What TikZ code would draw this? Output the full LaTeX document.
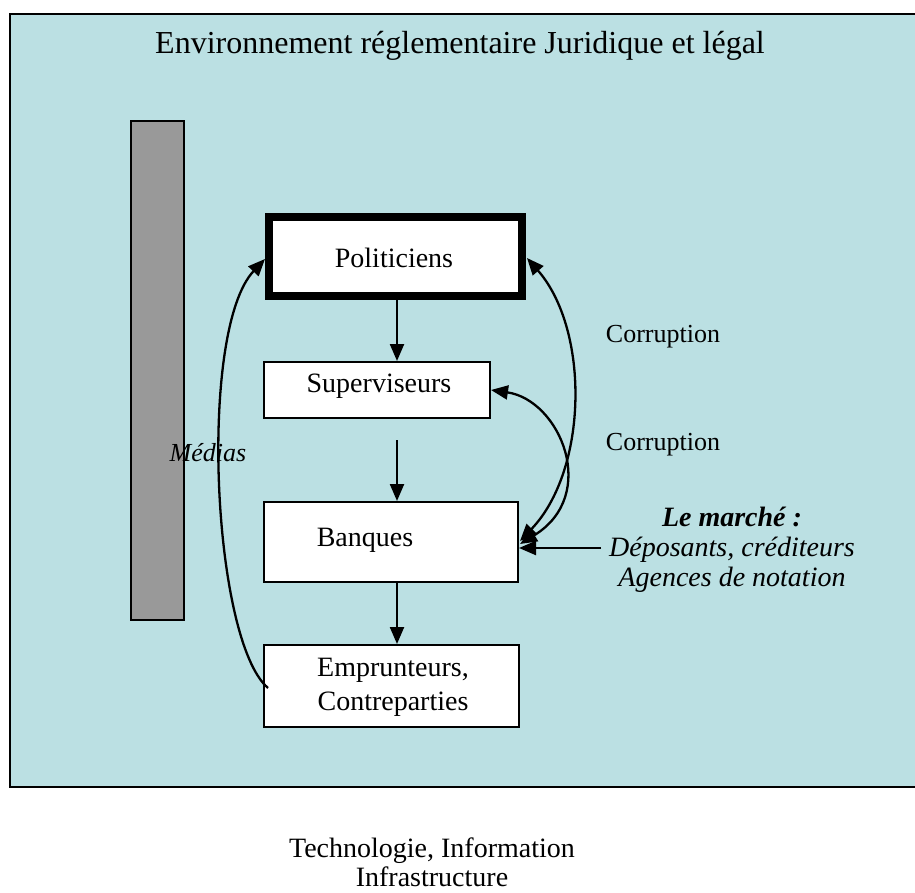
\documentclass[tikz,border=0pt]{standalone}
\usepackage{fontspec}
\setmainfont{Liberation Serif}
\usetikzlibrary{arrows.meta}
\definecolor{bgblue}{RGB}{187,224,227}
\definecolor{bargray}{RGB}{153,153,153}
\begin{document}
\begin{tikzpicture}[x=1pt,y=-1pt,
  box/.style={draw=black, fill=white, line width=1.4pt, inner sep=0pt},
  arr/.style={-{Triangle[length=17pt,width=14pt]}, line width=2.3pt},
  darr/.style={{Triangle[length=17pt,width=14pt]}-{Triangle[length=17pt,width=14pt]}, line width=2.3pt},
  txt/.style={font=\fontsize{28}{34}\selectfont, inner sep=0pt},
  small/.style={font=\fontsize{26}{30}\selectfont, inner sep=0pt}]
\useasboundingbox (0,0) rectangle (915,893);
\fill[white] (0,0) rectangle (915,893);
\draw[fill=bgblue, line width=1.4pt] (10,14) rectangle (918,787);
\node[font=\fontsize{32}{36}\selectfont, inner sep=0pt] (title) at (460,46) {Environnement réglementaire Juridique et légal};
\draw[fill=bargray, line width=1.2pt] (131,121) rectangle (184,620);
% boxes
\node[box, line width=8pt, minimum width=253pt, minimum height=79pt] (pol) at (395.5,256.5) {};
\node[txt] at (394,258) {Politiciens};
\node[box, minimum width=226pt, minimum height=56pt] (sup) at (377,390) {};
\node[txt] at (379,386) {Superviseurs};
\node[box, minimum width=254pt, minimum height=80pt] (ban) at (391,542) {};
\node[txt] at (365,540) {Banques};
\node[box, minimum width=255pt, minimum height=82pt] (emp) at (391.5,686) {};
\node[txt, align=center] at (393,687) {Emprunteurs,\\Contreparties};
% labels
\node[small] (c1) at (663,337) {Corruption};
\node[small] (c2) at (663,445) {Corruption};
\node[small, font=\fontsize{26}{30}\selectfont\itshape] (med) at (208,453) {Médias};
\node[txt, align=center, font=\fontsize{28}{30}\selectfont\itshape] (mkt) at (732,550) {\textbf{Le marché :}\\Déposants, créditeurs\\Agences de notation};
\node[txt, align=center, font=\fontsize{28}{29}\selectfont] (tech) at (432,862) {Technologie, Information\\Infrastructure};
% vertical arrows
\coordinate (s2) at (397,440);
\draw[arr] (pol.south -| 397,0) -- (397,361);
\draw[arr] (s2) -- (397,501);
\draw[arr] (397,583) -- (397,644);
% media curve
\coordinate (e1) at (268,688);
\coordinate (p1) at (265,259);
\draw[arr] (e1) .. controls (212,640) and (198,330) .. (p1);
% corruption curves
\coordinate (p2) at (527,258);
\coordinate (b1) at (520,541);
\draw[darr] (p2) .. controls (590,330) and (588,470) .. (b1);
\coordinate (s3) at (491,390);
\coordinate (b2) at (520,544);
\draw[darr] (s3) .. controls (560,400) and (600,495) .. (b2);
% market
\coordinate (m1) at (601,548);
\draw[arr] (m1) -- (519,548);
\end{tikzpicture}
\end{document}
